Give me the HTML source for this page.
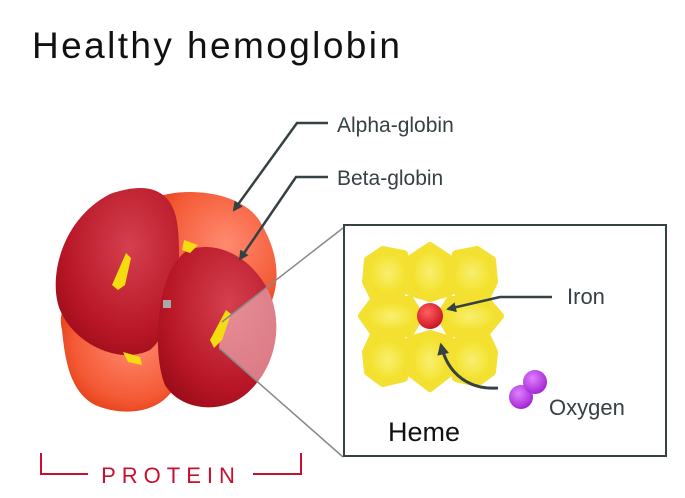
<!DOCTYPE html>
<html><head><meta charset="utf-8"><style>
html,body{margin:0;padding:0;background:#fff;}
svg{display:block;font-family:"Liberation Sans",sans-serif;}
</style></head><body>
<svg width="685" height="498" viewBox="0 0 685 498">
<defs>
<radialGradient id="or" cx="0.6" cy="0.4" r="0.7"><stop offset="0" stop-color="#ff8a70"/><stop offset="0.7" stop-color="#f45a35"/><stop offset="1" stop-color="#e03a10"/></radialGradient>
<radialGradient id="dr" cx="0.6" cy="0.35" r="0.75"><stop offset="0" stop-color="#d4404e"/><stop offset="0.7" stop-color="#b81626"/><stop offset="1" stop-color="#9a0c18"/></radialGradient>
<radialGradient id="ye" cx="0.5" cy="0.5" r="0.6"><stop offset="0" stop-color="#f8ef70"/><stop offset="1" stop-color="#f2dc10"/></radialGradient>
<radialGradient id="fe" cx="0.4" cy="0.35" r="0.7"><stop offset="0" stop-color="#ff6060"/><stop offset="1" stop-color="#c81020"/></radialGradient>
<radialGradient id="ox" cx="0.4" cy="0.35" r="0.7"><stop offset="0" stop-color="#e080ff"/><stop offset="1" stop-color="#a020d0"/></radialGradient>
<clipPath id="rb"><path d="M188,250 C215,240 250,255 268,290 C285,325 275,370 245,395 C220,415 180,410 165,385 C152,355 155,270 188,250 Z"/></clipPath>
<marker id="ah" viewBox="0 0 10 10" refX="8" refY="5" markerWidth="4" markerHeight="4" orient="auto"><path d="M0,0 L10,5 L0,10 z" fill="#364144"/></marker>
</defs>
<text x="32" y="58" font-size="37" fill="#111" textLength="368">Healthy hemoglobin</text>

<g>
<path d="M150,200 C180,185 245,190 262,225 C285,265 278,300 260,320 L180,320 Z" fill="url(#or)"/>
<path d="M62,330 C55,300 80,290 120,300 C160,305 185,330 180,370 C175,410 130,420 95,405 C70,392 65,360 62,330 Z" fill="url(#or)"/>
<path d="M110,194 C150,180 175,190 178,230 C182,270 175,330 150,350 C120,365 75,345 60,310 C48,280 60,220 110,194 Z" fill="url(#dr)"/>
<path d="M188,250 C215,240 250,255 268,290 C285,325 275,370 245,395 C220,415 180,410 165,385 C152,355 155,270 188,250 Z" fill="url(#dr)"/>
<polygon points="222,322 343,228 343,457 219,348" fill="#f4c0c6" opacity="0.6" clip-path="url(#rb)"/>
<path d="M126,253 L131,258 L125,285 L118,290 L112,285 Z" fill="#f5dc10"/>
<path d="M226,310 L231,314 L222,340 L214,348 L210,340 Z" fill="#f5dc10"/>
<path d="M184,240 L198,245 L190,253 L182,250 Z" fill="#f5dc10"/>
<path d="M123,352 L140,357 L142,365 L128,362 Z" fill="#f5dc10"/>
<rect x="163" y="300" width="8" height="8" fill="#aaa"/>
</g>

<line x1="222" y1="322" x2="343" y2="228" stroke="#888" stroke-width="1.5"/>
<line x1="219" y1="348" x2="343" y2="457" stroke="#888" stroke-width="1.5"/>

<polyline points="328,123 297,123 234,210" fill="none" stroke="#364144" stroke-width="2.5" marker-end="url(#ah)"/>
<polyline points="328,177 296,177 240,259" fill="none" stroke="#364144" stroke-width="2.5" marker-end="url(#ah)"/>
<text x="337" y="132" font-size="21" fill="#364144">Alpha-globin</text>
<text x="337" y="185" font-size="21" fill="#364144">Beta-globin</text>

<rect x="344" y="225" width="322" height="231" fill="#fff" stroke="#364144" stroke-width="2"/>
<g>
<g fill="url(#ye)" stroke="#f3e030" stroke-width="8" stroke-linejoin="round">
<path d="M368,260 L383,250 L404,254 L410,280 L400,296 L373,296 L366,282 Z"/>
<path d="M412,258 L430,246 L448,258 L450,292 L430,298 L410,292 Z"/>
<path d="M456,254 L477,250 L492,260 L494,282 L487,296 L460,296 L450,280 Z"/>
<path d="M362,316 L374,300 L410,300 L420,316 L410,333 L374,333 Z"/>
<path d="M440,316 L450,300 L486,300 L500,316 L486,333 L450,333 Z"/>
<path d="M366,352 L373,337 L400,337 L410,352 L404,378 L383,383 L368,372 Z"/>
<path d="M410,340 L430,334 L450,340 L448,374 L430,388 L412,374 Z"/>
<path d="M460,337 L487,337 L494,352 L492,372 L477,383 L456,378 L450,352 Z"/>
</g>
<circle cx="430" cy="316" r="13" fill="url(#fe)"/>
</g>
<polyline points="552,297 500,297 448,309" fill="none" stroke="#364144" stroke-width="2.5" marker-end="url(#ah)"/>
<path d="M498,388 C470,390 448,375 441,345" fill="none" stroke="#364144" stroke-width="3" marker-end="url(#ah)"/>
<circle cx="521" cy="397" r="12" fill="url(#ox)"/>
<circle cx="535" cy="382" r="12" fill="url(#ox)"/>
<text x="567" y="304" font-size="22" fill="#364144">Iron</text>
<text x="549" y="415" font-size="22" fill="#364144">Oxygen</text>
<text x="388" y="441" font-size="27" fill="#111">Heme</text>

<polyline points="41,453 41,474 88,474" fill="none" stroke="#c8102e" stroke-width="2"/>
<polyline points="253,474 301,474 301,453" fill="none" stroke="#c8102e" stroke-width="2"/>
<text x="171" y="483" font-size="22" fill="#c8102e" text-anchor="middle" letter-spacing="6">PROTEIN</text>
</svg>
</body></html>
